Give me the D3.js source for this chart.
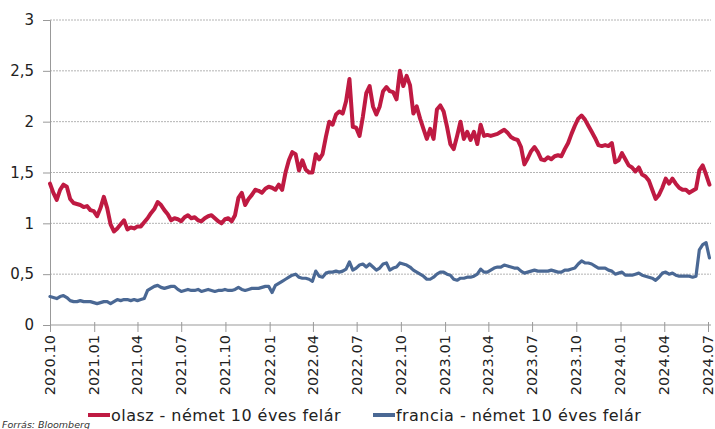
<!DOCTYPE html>
<html><head><meta charset="utf-8">
<script src="https://cdn.jsdelivr.net/npm/d3@7"></script>
<style>body{margin:0;background:#fff}svg{display:block}</style>
</head><body>
<svg id="c" width="715" height="429"></svg>
<script>
// Weekly observations starting 2020-10-01
const startDate = "2020-10-01";
const stepDays = 7;
const seriesNames = ["olasz - német 10 éves felár", "francia - német 10 éves felár"];
const italy = [1.39,1.30,1.23,1.33,1.38,1.36,1.24,1.20,1.19,1.18,1.16,1.17,1.13,1.12,1.07,1.15,1.26,1.15,0.99,0.92,
0.95,0.99,1.03,0.94,0.96,0.95,0.97,0.97,1.01,1.05,1.10,1.14,1.21,1.18,1.13,1.09,1.03,1.05,1.04,1.02,
1.06,1.08,1.05,1.06,1.03,1.02,1.05,1.07,1.08,1.05,1.02,1.00,1.04,1.05,1.02,1.08,1.25,1.30,1.18,1.24,
1.28,1.33,1.32,1.30,1.34,1.36,1.35,1.33,1.38,1.33,1.50,1.62,1.70,1.68,1.52,1.62,1.53,1.50,1.50,1.68,
1.63,1.68,1.85,2.00,1.97,2.07,2.10,2.08,2.20,2.42,1.95,1.94,1.86,2.05,2.28,2.35,2.15,2.07,2.15,2.30,
2.34,2.30,2.29,2.22,2.50,2.35,2.45,2.36,2.08,2.15,2.03,1.93,1.83,1.93,1.83,2.12,2.16,2.10,1.95,1.78,
1.73,1.86,2.00,1.83,1.90,1.82,1.90,1.78,1.97,1.86,1.87,1.86,1.87,1.88,1.90,1.92,1.89,1.85,1.83,1.82,
1.75,1.58,1.64,1.71,1.75,1.70,1.63,1.62,1.65,1.63,1.66,1.67,1.66,1.73,1.79,1.88,1.96,2.03,2.06,2.02,
1.96,1.90,1.84,1.77,1.76,1.77,1.76,1.79,1.60,1.62,1.69,1.63,1.57,1.55,1.51,1.55,1.48,1.46,1.42,1.33,
1.24,1.28,1.35,1.44,1.39,1.44,1.39,1.35,1.33,1.33,1.30,1.32,1.34,1.52,1.57,1.48,1.38];
const france = [0.28,0.27,0.26,0.28,0.29,0.27,0.24,0.23,0.23,0.24,0.23,0.23,0.23,0.22,0.21,0.22,0.23,0.23,0.21,0.23,
0.25,0.24,0.25,0.25,0.24,0.25,0.24,0.25,0.26,0.34,0.36,0.38,0.39,0.37,0.36,0.37,0.38,0.38,0.35,0.33,
0.34,0.35,0.34,0.34,0.35,0.33,0.34,0.35,0.34,0.33,0.34,0.34,0.35,0.34,0.34,0.35,0.37,0.35,0.34,0.35,
0.36,0.36,0.36,0.37,0.38,0.38,0.32,0.39,0.41,0.43,0.45,0.47,0.49,0.50,0.47,0.46,0.46,0.45,0.43,0.53,
0.48,0.47,0.51,0.52,0.52,0.53,0.52,0.53,0.55,0.62,0.54,0.56,0.59,0.60,0.57,0.60,0.57,0.54,0.56,0.60,
0.61,0.54,0.56,0.57,0.61,0.60,0.59,0.57,0.54,0.52,0.50,0.48,0.45,0.45,0.47,0.50,0.52,0.52,0.50,0.49,
0.45,0.44,0.46,0.46,0.47,0.47,0.48,0.50,0.55,0.52,0.52,0.54,0.56,0.57,0.57,0.59,0.58,0.57,0.56,0.56,
0.53,0.51,0.52,0.53,0.54,0.53,0.53,0.53,0.53,0.54,0.53,0.52,0.52,0.54,0.54,0.55,0.56,0.60,0.63,0.61,
0.61,0.60,0.58,0.56,0.56,0.56,0.54,0.53,0.50,0.51,0.52,0.49,0.49,0.49,0.50,0.51,0.49,0.48,0.47,0.46,
0.44,0.47,0.51,0.52,0.50,0.51,0.49,0.48,0.48,0.48,0.48,0.47,0.48,0.74,0.79,0.81,0.66];
const yTicks = [0, 0.5, 1, 1.5, 2, 2.5, 3];
const xTickLabels = ["2020.10","2021.01","2021.04","2021.07","2021.10","2022.01","2022.04","2022.07","2022.10","2023.01","2023.04","2023.07","2023.10","2024.01","2024.04","2024.07"];
const sourceText = "Forrás: Bloomberg";

const colors = ["#bf1a42", "#4a6894"];
const font = "'DejaVu Sans', sans-serif";
const svg = d3.select("#c");
const parse = d3.timeParse("%Y-%m-%d");
const parseTick = d3.timeParse("%Y.%m");
const t0 = parse(startDate);
const dates = italy.map((_, i) => d3.timeDay.offset(t0, i * stepDays));

const x = d3.scaleTime().domain([parseTick("2020.10"), parseTick("2024.07")]).range([50, 708]);
const y = d3.scaleLinear().domain([0, 3]).range([325, 20]);
const xRight = 711;

// gridlines
svg.append("g").selectAll("line").data(yTicks.filter(d => d > 0)).join("line")
  .attr("x1", 50).attr("x2", xRight).attr("y1", d => y(d)).attr("y2", d => y(d))
  .attr("stroke", "#b4b4b4").attr("stroke-width", 1).attr("stroke-dasharray", "2,1");

// y axis
const yAxis = svg.append("g").attr("transform", "translate(50,0)")
  .call(d3.axisLeft(y).tickValues(yTicks).tickSize(7).tickPadding(9)
    .tickFormat(d => d3.format("")(d).replace(".", ",")));
yAxis.select(".domain").attr("stroke", "#999");
yAxis.selectAll(".tick line").attr("stroke", "#999");
yAxis.selectAll("text").attr("font-family", font).attr("font-size", 15).attr("fill", "#222");

// x axis
const xAxis = svg.append("g").attr("transform", "translate(0,325)")
  .call(d3.axisBottom(x).tickValues(xTickLabels.map(parseTick)).tickSize(7).tickPadding(10)
    .tickFormat(d3.timeFormat("%Y.%m")));
xAxis.select(".domain").attr("stroke", "#999").attr("d", `M50,0H${xRight}`);
xAxis.selectAll(".tick line").attr("stroke", "#999").attr("y1", -3);
xAxis.selectAll("text").attr("font-family", font).attr("font-size", 14.6).attr("fill", "#222")
  .attr("transform", "rotate(-90)").attr("text-anchor", "end").attr("dy", "0.3em")
  .attr("x", -10).attr("y", 0);

// lines
const line = d3.line().x((d, i) => x(dates[i])).y(d => y(d)).curve(d3.curveLinear);
[italy, france].forEach((s, k) => {
  svg.append("path").datum(s).attr("d", line).attr("fill", "none")
    .attr("stroke", colors[k]).attr("stroke-width", k === 0 ? 4 : 3.2)
    .attr("stroke-linejoin", "round").attr("stroke-linecap", "round");
});

// legend
const legendX = [88, 373];
seriesNames.forEach((n, k) => {
  const g = svg.append("g").attr("transform", `translate(${legendX[k]},415)`);
  g.append("line").attr("x1", 0).attr("x2", 22).attr("y1", 0).attr("y2", 0)
    .attr("stroke", colors[k]).attr("stroke-width", 4);
  g.append("text").attr("x", 23).attr("y", 5.5).text(n)
    .attr("font-family", font).attr("font-size", 16).attr("letter-spacing", 0.45).attr("fill", "#222");
});

svg.append("text").attr("x", 2).attr("y", 428).text(sourceText)
  .attr("font-family", font).attr("font-size", 9.5).attr("font-style", "italic").attr("fill", "#333");
</script>
</body></html>
